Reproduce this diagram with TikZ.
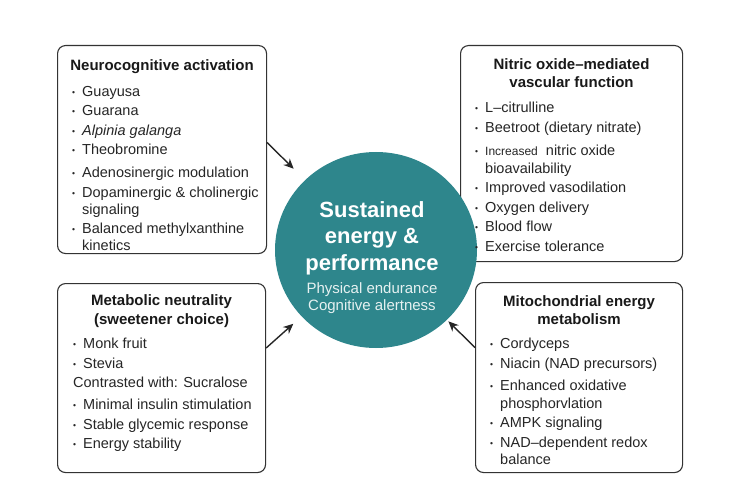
\documentclass[tikz,border=0pt]{standalone}
\usepackage{fontspec}
\setmainfont{Liberation Sans}
\usepackage{xcolor}
\usetikzlibrary{positioning,arrows.meta,shapes.geometric}

\definecolor{hubteal}{HTML}{2E868C}
\definecolor{hubsubtext}{HTML}{E6F1F1}
\newcommand{\bul}{\makebox[10pt][l]{\raisebox{1.2pt}{\fontsize{8.5}{8}\selectfont\textbullet}}}
\newcommand{\ind}{\hspace*{10pt}}

\begin{document}
\begin{tikzpicture}[
  x=1pt, y=1pt,
  box/.style={
    rectangle, rounded corners=8pt, anchor=north west,
    draw=black!80, fill=white, line width=1.1pt, inner sep=0pt
  },
  ttl/.style={
    font=\fontsize{15}{18.5}\selectfont\bfseries,
    align=center, inner sep=0pt, anchor=north, text=black!90
  },
  lst/.style={
    font=\fontsize{14.5}{19.5}\selectfont,
    align=left, inner sep=0pt, anchor=north west, text=black!85
  },
  hub/.style={
    ellipse, fill=hubteal, minimum width=202pt, minimum height=196pt, inner sep=0pt
  },
  hubttl/.style={
    font=\fontsize{22}{26.5}\selectfont\bfseries,
    align=center, inner sep=0pt, text=white
  },
  hubsub/.style={
    font=\fontsize{15}{17}\selectfont,
    align=center, inner sep=0pt, anchor=north, text=hubsubtext
  },
  arr/.style={-{Stealth[length=10pt,width=9pt]}, line width=1.4pt, draw=black!85}
]
\useasboundingbox (0,0) rectangle (750,-500);

% boxes
\node[box, minimum width=209pt, minimum height=208pt] (neuro) at (57,-45) {};
\node[box, minimum width=222pt, minimum height=216pt] (nitric) at (460,-45) {};
\node[box, minimum width=208pt, minimum height=189pt] (metab) at (57,-283) {};
\node[box, minimum width=207pt, minimum height=190pt] (mito) at (475,-282) {};

% centre
\node[hub] (hub) at (376,-250) {};
\node[hubttl] (hubttl) at ([xshift=-4pt,yshift=12pt]hub.center) {Sustained\\energy \&\\performance};
\node[hubsub, below=7pt of hubttl] (hubsub) {Physical endurance\\Cognitive alertness};

% titles
\node[ttl, below=14pt of neuro.north] (neurottl) {Neurocognitive activation};
\node[ttl, below=13pt of nitric.north] (nitricttl) {Nitric oxide--mediated\\vascular function};
\node[ttl, below=11.5pt of metab.north] (metabttl) {Metabolic neutrality\\(sweetener choice)};
\node[ttl, below=13pt of mito.north] (mitottl) {Mitochondrial energy\\metabolism};

% lists
\node[lst, below right=41pt and 15pt of neuro.north west] (neurolst) {%
  \bul Guayusa\\
  \bul Guarana\\
  \bul \textit{Alpinia galanga}\\
  \bul Theobromine\\[3.5pt]
  \bul Adenosinergic modulation\\
  \bul Dopaminergic \& cholinergic\\[-2.5pt]
  \ind signaling\\
  \bul Balanced methylxanthine\\[-2.5pt]
  \ind kinetics};
\node[lst, below right=57pt and 15pt of nitric.north west] (nitriclst) {%
  \bul L--citrulline\\
  \bul Beetroot (dietary nitrate)\\[3.5pt]
  \bul {\fontsize{12}{14}\selectfont Increased}\ \ nitric oxide\\[-1.5pt]
  \ind bioavailability\\
  \bul Improved vasodilation\\
  \bul Oxygen delivery\\
  \bul Blood flow\\
  \bul Exercise tolerance};
\node[lst, below right=55pt and 16pt of metab.north west] (metablst) {%
  \bul Monk fruit\\
  \bul Stevia\\
  Contrasted with: Sucralose\\[2.5pt]
  \bul Minimal insulin stimulation\\
  \bul Stable glycemic response\\
  \bul Energy stability};
\node[lst, below right=56pt and 15pt of mito.north west] (mitolst) {%
  \bul Cordyceps\\
  \bul Niacin (NAD precursors)\\[2.5pt]
  \bul Enhanced oxidative\\[-1.5pt]
  \ind phosphorvlation\\
  \bul AMPK signaling\\
  \bul NAD--dependent redox\\[-2.5pt]
  \ind balance};

% arrows
\draw[arr, shorten >=16pt] ([yshift=7pt]neuro.east) -- (hub);
\draw[arr, shorten >=11pt] ([yshift=30pt]metab.east) -- (hub);
\draw[arr, shorten >=2pt] ([yshift=30pt]mito.west) -- (hub);

\end{tikzpicture}
\end{document}
